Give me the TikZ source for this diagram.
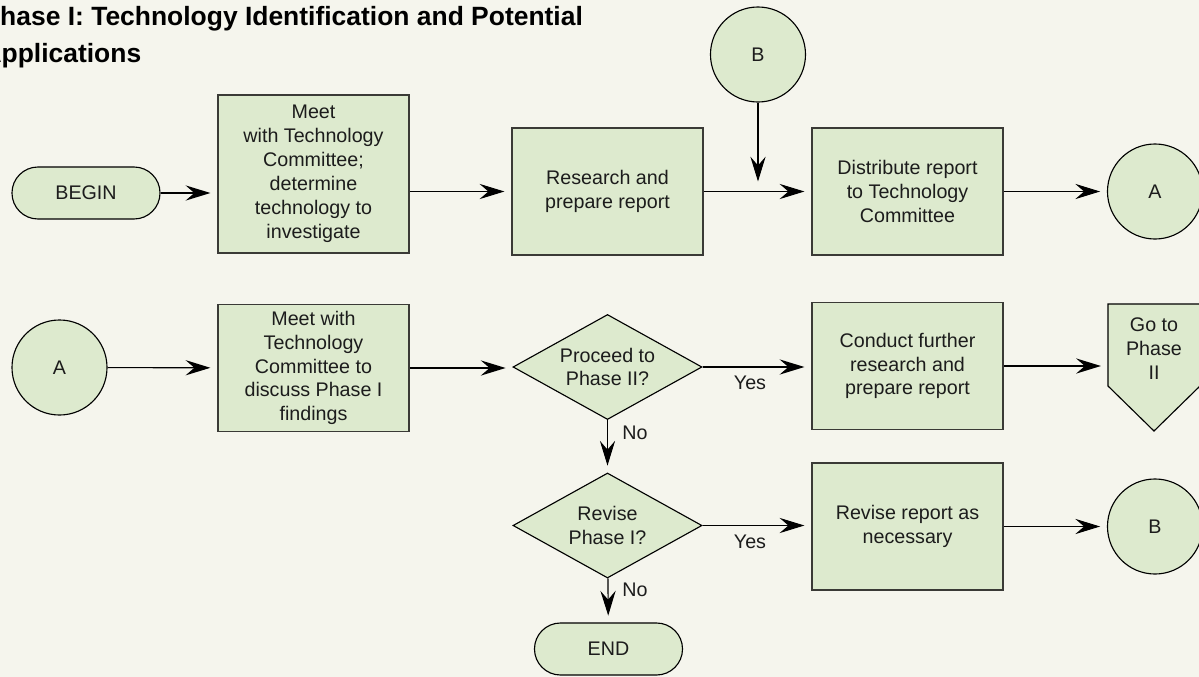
\documentclass[tikz,border=0pt]{standalone}
\usepackage{fontspec}
\setmainfont{Liberation Sans}
\usetikzlibrary{arrows.meta}
\usetikzlibrary{positioning}
\usetikzlibrary{shapes.geometric,shapes.misc}

\definecolor{pagebg}{RGB}{245,245,237}
\definecolor{boxgreen}{RGB}{221,234,206}
\definecolor{boxline}{RGB}{58,58,54}
\definecolor{inktext}{RGB}{28,28,28}

\begin{document}
\begin{tikzpicture}[x=0.025cm, y=-0.025cm,
  flowbox/.style={rectangle, draw=boxline, line width=1.1pt, fill=boxgreen,
    minimum width=\boxW, minimum height=\boxH, inner sep=0pt, align=center,
    text=inktext, font=\bodyfont},
  flowterm/.style={rounded rectangle, draw=black, line width=0.8pt, fill=boxgreen,
    minimum width=3.7cm, minimum height=1.3cm, inner sep=0pt, text=inktext, font=\bodyfont},
  flowconn/.style={circle, draw=black, line width=0.8pt, fill=boxgreen,
    minimum size=2.375cm, inner sep=0pt, text=inktext, font=\bodyfont},
  flowdec/.style={diamond, aspect=1.8, draw=black, line width=0.8pt, fill=boxgreen,
    minimum width=4.725cm, minimum height=2.625cm, inner sep=0pt, align=center,
    text=inktext, font=\bodyfont},
  flowarrow/.style={-{Stealth[length=6.2mm, width=3.8mm, inset=2.2mm]},
    line width=0.8pt, shorten >=1.7mm},
  flowlabel/.style={text=inktext, font=\bodyfont, inner sep=0pt}]

\newcommand{\boxW}{4.775cm}   % box width (191px)
\newcommand{\boxH}{3.175cm}   % box height (127px)
\newcommand{\bodyfont}{\fontsize{14pt}{17pt}\selectfont}

\useasboundingbox (0,0) rectangle (1199,677);
\fill[pagebg] (0,0) rectangle (1199,677);
\clip (0,0) rectangle (1199,677);

% title, cut at the left edge
\node[anchor=north west, inner sep=0pt, align=left, text=black,
  font=\fontsize{18.8pt}{26pt}\selectfont\bfseries] (title) at (-17.7,6.5)
  {Phase I: Technology Identification and Potential\\Applications};

% first row
\node[flowterm] (begin) at (86,193) {BEGIN};
\node[flowbox, minimum height=3.95cm] (meetcom) at (313.5,174)
  {Meet\\with Technology\\Committee;\\determine\\technology to\\investigate};
\node[flowbox] (research) at (607.5,191.5) {Research and\\prepare report};
\node[flowbox] (distribute) at (907.5,191.5) {Distribute report\\to Technology\\Committee};
\node[flowconn] (btop) at (758,54.5) {B};
\node[flowconn] (aright) at (1155,191.5) {A};

% second row
\node[flowconn] (aleft) at (59.5,367.5) {A};
\node[flowbox] (discuss) at (313.5,368)
  {Meet with\\Technology\\Committee to\\discuss Phase I\\findings};
\node[flowdec] (proceed) at (607.5,367) {Proceed to\\Phase II?};
\node[flowbox] (further) at (907.5,366) {Conduct further\\research and\\prepare report};
\filldraw[fill=boxgreen, draw=black, line width=0.8pt]
  (1108,304) -- (1200,304) -- (1200,386) -- (1154,431) -- (1108,386) -- cycle;
\node[flowlabel, align=center, minimum width=2.3cm] (gophase) at (1154,349)
  {Go to\\Phase\\II};

% third row
\node[flowdec] (revise) at (607.5,525.5) {Revise\\Phase I?};
\node[flowbox] (reviserep) at (907.5,526.5) {Revise report as\\necessary};
\node[flowconn] (bright) at (1155,526.5) {B};
\node[flowterm] (finish) at (608.5,649) {END};

% connectors
\draw[flowarrow] (begin.east) -- (begin.east -| meetcom.west);
\draw[flowarrow] (research.west -| meetcom.east) -- (research.west);
\draw[flowarrow] (research) -- (distribute);
\draw[flowarrow, shorten >=2.5mm] (btop) -- (btop |- research);
\draw[flowarrow] (distribute) -- (aright);

\draw[flowarrow] (aleft) -- (discuss);
\draw[flowarrow] (discuss.east) -- (discuss.east -| proceed.west);
\draw[flowarrow] (proceed.east) -- (proceed.east -| further.west);
\draw[flowarrow] (further.east) -- (further.east -| gophase.west);
\draw[flowarrow] (proceed) -- (revise);
\draw[flowarrow] (revise.east) -- (revise.east -| reviserep.west);
\draw[flowarrow] (reviserep) -- (bright);
\draw[flowarrow] (revise) -- (finish);

\node[flowlabel] (yes1) at (750,383) {Yes};
\node[flowlabel] (yes2) at (750,542) {Yes};
\node[flowlabel] (no1) at (635,433) {No};
\node[flowlabel] (no2) at (635,590) {No};

\end{tikzpicture}
\end{document}
